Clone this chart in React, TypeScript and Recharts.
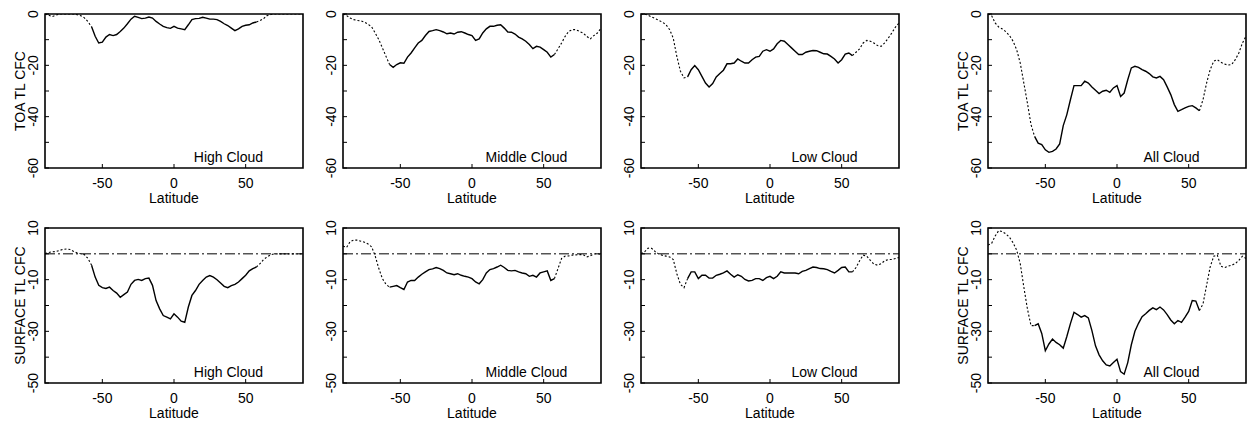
import React from 'react';
import { LineChart, Line, XAxis, YAxis, ReferenceArea, ReferenceLine, ReferenceDot } from 'recharts';

const FONT = '"Liberation Sans", Arial, Helvetica, sans-serif';

// Zonal means, every 2.5 degrees of latitude
const LATITUDE = [
  -90, -87.5, -85, -82.5, -80, -77.5, -75, -72.5, -70, -67.5,
  -65, -62.5, -60, -57.5, -55, -52.5, -50, -47.5, -45, -42.5,
  -40, -37.5, -35, -32.5, -30, -27.5, -25, -22.5, -20, -17.5,
  -15, -12.5, -10, -7.5, -5, -2.5, 0, 2.5, 5, 7.5,
  10, 12.5, 15, 17.5, 20, 22.5, 25, 27.5, 30, 32.5,
  35, 37.5, 40, 42.5, 45, 47.5, 50, 52.5, 55, 57.5,
  60, 62.5, 65, 67.5, 70, 72.5, 75, 77.5, 80, 82.5,
  85, 87.5, 90,
];

// Solid between these latitudes, dotted poleward of them
const SOLID_FROM = -57.5;
const SOLID_TO = 57.5;

const X_TICKS = [-50, 0, 50];

const TOA_TICKS = [0, -10, -20, -30, -40, -50, -60];
const TOA_LABELED = [0, -20, -40, -60];
const SFC_TICKS = [10, 0, -10, -20, -30, -40, -50];
const SFC_LABELED = [10, -10, -30, -50];

const TOA_HIGH = [
  0, -0.5, -1, -0.5, 0, 0, 0, 0, 0, -0.3,
  -0.7, -1.5, -3, -5, -8.7, -11.3, -11, -9, -8, -8.4,
  -8, -6.8, -5.5, -3.8, -2, -0.9, -1.3, -1.8, -1.6, -1.2,
  -1.6, -2.9, -3.9, -4.8, -5.3, -5.6, -4.8, -5.5, -5.8, -6.1,
  -4.2, -2.2, -1.8, -1.7, -1.3, -1.6, -2, -2, -2.2, -2.9,
  -3.8, -4.5, -5.5, -6.5, -5.8, -4.8, -4.4, -4.2, -3.5, -3.1,
  -2.6, -1.8, -0.6, -0.2, 0, 0, 0, 0, 0, 0,
  0, 0, 0,
];

const TOA_MIDDLE = [
  0, -0.6, -1.6, -2.2, -2.5, -2.7, -3.2, -4, -5, -7.4,
  -10, -13.2, -16.5, -19.7, -20.8, -19.7, -19, -19.2, -16.8, -15.2,
  -13.2, -11.3, -10.3, -8.4, -6.8, -6.5, -6.1, -6.5, -7, -7.7,
  -7.4, -7.8, -7.1, -6.9, -7.4, -8, -8.4, -10.3, -9.7, -7.4,
  -5.8, -4.8, -4.8, -4.4, -4.2, -5.5, -7, -7.1, -7.8, -9,
  -9.7, -10.6, -11.9, -13.5, -12.6, -12.9, -13.9, -14.9, -16.8, -15.8,
  -13.6, -11.3, -8.7, -6.8, -6.1, -6.1, -6.8, -7.4, -8.7, -9.7,
  -8.4, -7.4, -5.5,
];

const TOA_LOW = [
  0, 0, -0.5, -1.2, -1.8, -2.5, -3.2, -4.2, -6.1, -9.4,
  -16.5, -22.3, -24.9, -24.5, -21.7, -20.1, -21.7, -24.3, -26.9, -28.4,
  -27.1, -24.5, -23.2, -21.9, -19.4, -19.4, -19.1, -17.5, -18.4, -19.1,
  -19.1, -17.8, -16.8, -16.5, -14.5, -13.9, -14.5, -13.6, -11.6, -10.3,
  -10.6, -11.9, -13.2, -14.5, -15.8, -15.8, -14.9, -14.5, -14.2, -14.3,
  -14.9, -15.5, -15.6, -16.5, -17.5, -19.1, -17.8, -15.6, -15.2, -16.2,
  -14.9, -13.6, -11.3, -10.3, -10.6, -11.3, -12.3, -12.6, -11.3, -9.4,
  -7.4, -5.1, -3.5,
];

const TOA_ALL = [
  0, -0.6, -3.5, -5.1, -5.8, -6.9, -8.4, -10.6, -13.9, -19.1,
  -26.9, -34.7, -43.1, -47.7, -50.3, -50.9, -52.9, -53.9, -53.5, -52.6,
  -50.6, -43.5, -39.2, -33.4, -27.9, -27.9, -27.9, -26.2, -26.9, -28.4,
  -29.7, -31, -30.1, -29.7, -30.5, -28.8, -27.9, -32.1, -30.8, -25.6,
  -21, -20.4, -20.8, -21.7, -22.3, -23.2, -24.5, -24.9, -24.3, -25.6,
  -28.4, -31.4, -35.3, -37.9, -37.3, -36.6, -36, -35.7, -36.6, -37.7,
  -33.4, -26.9, -21.7, -18.4, -17.8, -18.8, -19.5, -19.9, -19.7, -17.8,
  -15.2, -11.3, -8.7,
];

const SFC_HIGH = [
  0.1, 0.5, 0.8, 0.9, 1.3, 1.7, 1.9, 1.7, 0.9, 0.3,
  0, -0.3, -1.8, -4.4, -9, -12.2, -13.1, -13.4, -12.9, -14.2,
  -15.2, -16.8, -15.8, -14.8, -11.8, -10.3, -9.9, -10.3, -9.6, -9.4,
  -12.2, -18.1, -21.3, -23.9, -24.5, -25.2, -23.2, -24.5, -26.1, -26.5,
  -20.6, -16.1, -14.2, -11.8, -10.3, -9, -8.4, -9, -10, -11.3,
  -12.6, -13.1, -12.3, -11.8, -10.9, -9.6, -8.3, -6.6, -5.7, -5.1,
  -3.8, -2.2, -1.2, -0.4, 0, 0, 0, 0, 0, 0,
  0, 0, 0,
];

const SFC_MIDDLE = [
  3, 2.5, 4.7, 5.3, 5.3, 4.9, 4.5, 3.8, 2.7, -0.9,
  -5.7, -9.6, -11.8, -12.9, -12.6, -12.3, -13.1, -13.8, -10.9, -10.3,
  -10.3, -9, -7.9, -7, -6.1, -5.8, -5.3, -5.7, -6.4, -7.4,
  -7.7, -8.1, -7.7, -8.3, -8.7, -9, -9.6, -10.9, -11.6, -10,
  -7.4, -6.1, -5.7, -5.1, -4.4, -5.3, -6.4, -6.6, -6.4, -7,
  -7.4, -7.7, -8.7, -8.3, -9, -7.4, -7, -6.6, -10.3, -9.6,
  -5.7, -1.8, -0.9, -0.8, -0.5, -0.4, -0.3, -0.3, -1.2, -0.8,
  -0.1, 0.1, -0.3,
];

const SFC_LOW = [
  0.1, 0.8, 2.2, 2.1, 0.8, -0.1, -0.6, -0.9, -1.2, -2.2,
  -7.7, -11.8, -13.1, -9.6, -7, -7, -9.6, -8.3, -8.3, -9.4,
  -9.4, -8.3, -7.9, -7.4, -6.6, -7.9, -9, -8.1, -8.7, -9.9,
  -10.5, -10.3, -9.6, -9.6, -10.3, -9.2, -8.7, -9.6, -8.7, -7,
  -7.4, -7.4, -7.4, -7.4, -7.7, -6.8, -6.4, -5.7, -5.1, -5.3,
  -5.7, -5.8, -6.1, -6.8, -7.4, -6.4, -5.3, -5.1, -7, -7,
  -5.3, -2.7, -0.5, -0.9, -2.5, -4, -4.4, -3.8, -2.7, -2.2,
  -2.2, -1.8, -1.4,
];

const SFC_ALL = [
  3.4, 4, 6.9, 9, 8.6, 7.7, 6.4, 4.3, 1.4, -3.8,
  -12.9, -21.3, -27.8, -27.8, -27.1, -30.8, -37.5, -34.9, -33, -34.3,
  -35.2, -36.5, -32, -27, -22.6, -23.5, -24.5, -23.9, -24.8, -29.7,
  -35.6, -39.1, -41.4, -43, -43.4, -42.1, -40.8, -45.6, -46.6, -42.1,
  -35.2, -30, -26.9, -24.3, -23.2, -21.9, -20.9, -21.6, -20.6, -21.7,
  -23.5, -25.6, -27.1, -25.8, -26.5, -24.5, -22.3, -18.1, -18.3, -21.9,
  -19.4, -12.2, -5.1, -0.9, -0.5, -4.8, -5.3, -4.8, -4.4, -3.8,
  -2.5, -0.9, -1.8,
];

const COLUMN_LEFTS = [0, 298, 596, 943];
const CLOUD_TYPES = ['High Cloud', 'Middle Cloud', 'Low Cloud', 'All Cloud'];
const TOA_SERIES = [TOA_HIGH, TOA_MIDDLE, TOA_LOW, TOA_ALL];
const SFC_SERIES = [SFC_HIGH, SFC_MIDDLE, SFC_LOW, SFC_ALL];

const PLOT_OFFSET = 45;
const PLOT_WIDTH = 258;
const CHART_WIDTH = PLOT_OFFSET + PLOT_WIDTH + 6;
const TICK_LEN = 4;

type RowConfig = {
  top: number;
  height: number;
  marginTop: number;
  axisHeight: number;
  domain: [number, number];
  ticks: number[];
  labeled: number[];
  yTitle: string;
  zeroLine: boolean;
};

const TOA_ROW: RowConfig = {
  top: 0, height: 210, marginTop: 14, axisHeight: 42,
  domain: [-60, 0], ticks: TOA_TICKS, labeled: TOA_LABELED,
  yTitle: 'TOA TL CFC', zeroLine: false,
};

const SFC_ROW: RowConfig = {
  top: 210, height: 211, marginTop: 18, axisHeight: 38,
  domain: [-50, 10], ticks: SFC_TICKS, labeled: SFC_LABELED,
  yTitle: 'SURFACE TL CFC', zeroLine: true,
};

const textStyle = { fontFamily: FONT, fontSize: 14, fill: '#000' };

function Panel({ row, left, values, title, showYTitle }: {
  row: RowConfig; left: number; values: number[]; title: string; showYTitle: boolean;
}) {
  const data = LATITUDE.map((lat, i) => ({
    lat,
    solid: lat >= SOLID_FROM && lat <= SOLID_TO ? values[i] : null,
    dotted: lat <= SOLID_FROM || lat >= SOLID_TO ? values[i] : null,
  }));
  const [yMin, yMax] = row.domain;

  // Ticks point into the plot; labels sit outside the frame
  const xTick = (p: any) => (
    <g>
      <line x1={p.x} x2={p.x} y1={p.y} y2={p.y - TICK_LEN} stroke="#000" strokeWidth={1} />
      <text x={p.x} y={p.y + 20} textAnchor="middle" {...textStyle}>
        {p.payload.value}
      </text>
    </g>
  );

  const yTick = (p: any) => {
    const v = p.payload.value;
    const bx = p.x - 7;
    return (
      <g>
        <line x1={p.x} x2={p.x + TICK_LEN} y1={p.y} y2={p.y} stroke="#000" strokeWidth={1} />
        {row.labeled.includes(v) && (
          <text x={bx} y={p.y} textAnchor="middle" transform={`rotate(-90, ${bx}, ${p.y})`} {...textStyle}>
            {v}
          </text>
        )}
      </g>
    );
  };

  return (
    <div style={{ position: 'absolute', left, top: row.top }}>
      <LineChart
        width={CHART_WIDTH}
        height={row.height}
        data={data}
        margin={{ top: row.marginTop, right: 6, bottom: 0, left: 0 }}
      >
        <XAxis
          dataKey="lat"
          type="number"
          domain={[-90, 90]}
          ticks={X_TICKS}
          interval={0}
          allowDataOverflow
          axisLine={false}
          tickLine={false}
          tickSize={0}
          tickMargin={0}
          height={row.axisHeight}
          tick={xTick}
        />
        <YAxis
          type="number"
          domain={row.domain}
          ticks={row.ticks}
          interval={0}
          allowDataOverflow
          axisLine={false}
          tickLine={false}
          tickSize={0}
          tickMargin={0}
          width={PLOT_OFFSET}
          tick={yTick}
        />
        <ReferenceArea x1={-90} x2={90} y1={yMin} y2={yMax} fill="none" stroke="#000" strokeWidth={1.6} />
        {row.zeroLine && (
          <ReferenceLine y={0} stroke="#000" strokeWidth={1} strokeDasharray="10 3 2 3" />
        )}
        <Line
          dataKey="dotted"
          type="linear"
          stroke="#000"
          strokeWidth={1.1}
          strokeDasharray="2 2"
          dot={false}
          isAnimationActive={false}
        />
        <Line
          dataKey="solid"
          type="linear"
          stroke="#000"
          strokeWidth={1.4}
          dot={false}
          isAnimationActive={false}
        />
        <ReferenceDot
          x={38}
          y={yMin}
          r={1}
          fill="none"
          stroke="none"
          label={{
            content: (p: any) => {
              const vb = p.viewBox;
              return (
                <text x={vb.x + 1} y={vb.y + 1 - 6} textAnchor="middle" {...textStyle}>
                  {title}
                </text>
              );
            },
          }}
        />
        <ReferenceDot
          x={0}
          y={yMin}
          r={1}
          fill="none"
          stroke="none"
          label={{
            content: (p: any) => {
              const vb = p.viewBox;
              return (
                <text x={vb.x + 1} y={vb.y + 1 + 35} textAnchor="middle" {...textStyle}>
                  Latitude
                </text>
              );
            },
          }}
        />
        {showYTitle && (
          <ReferenceDot
            x={-90}
            y={(yMin + yMax) / 2}
            r={1}
            fill="none"
            stroke="none"
            label={{
              content: (p: any) => {
                const vb = p.viewBox;
                const cx = vb.x + 1 - 20;
                const cy = vb.y + 1;
                return (
                  <text x={cx} y={cy} textAnchor="middle" transform={`rotate(-90, ${cx}, ${cy})`} {...textStyle}>
                    {row.yTitle}
                  </text>
                );
              },
            }}
          />
        )}
      </LineChart>
    </div>
  );
}

export default function App() {
  return (
    <div style={{ position: 'absolute', left: 0, top: 0, width: 1250, height: 421, background: '#fff' }}>
      {COLUMN_LEFTS.map((left, i) => (
        <Panel
          key={`toa-${i}`}
          row={TOA_ROW}
          left={left}
          values={TOA_SERIES[i]}
          title={CLOUD_TYPES[i]}
          showYTitle={i === 0 || i === 3}
        />
      ))}
      {COLUMN_LEFTS.map((left, i) => (
        <Panel
          key={`sfc-${i}`}
          row={SFC_ROW}
          left={left}
          values={SFC_SERIES[i]}
          title={CLOUD_TYPES[i]}
          showYTitle={i === 0 || i === 3}
        />
      ))}
    </div>
  );
}
